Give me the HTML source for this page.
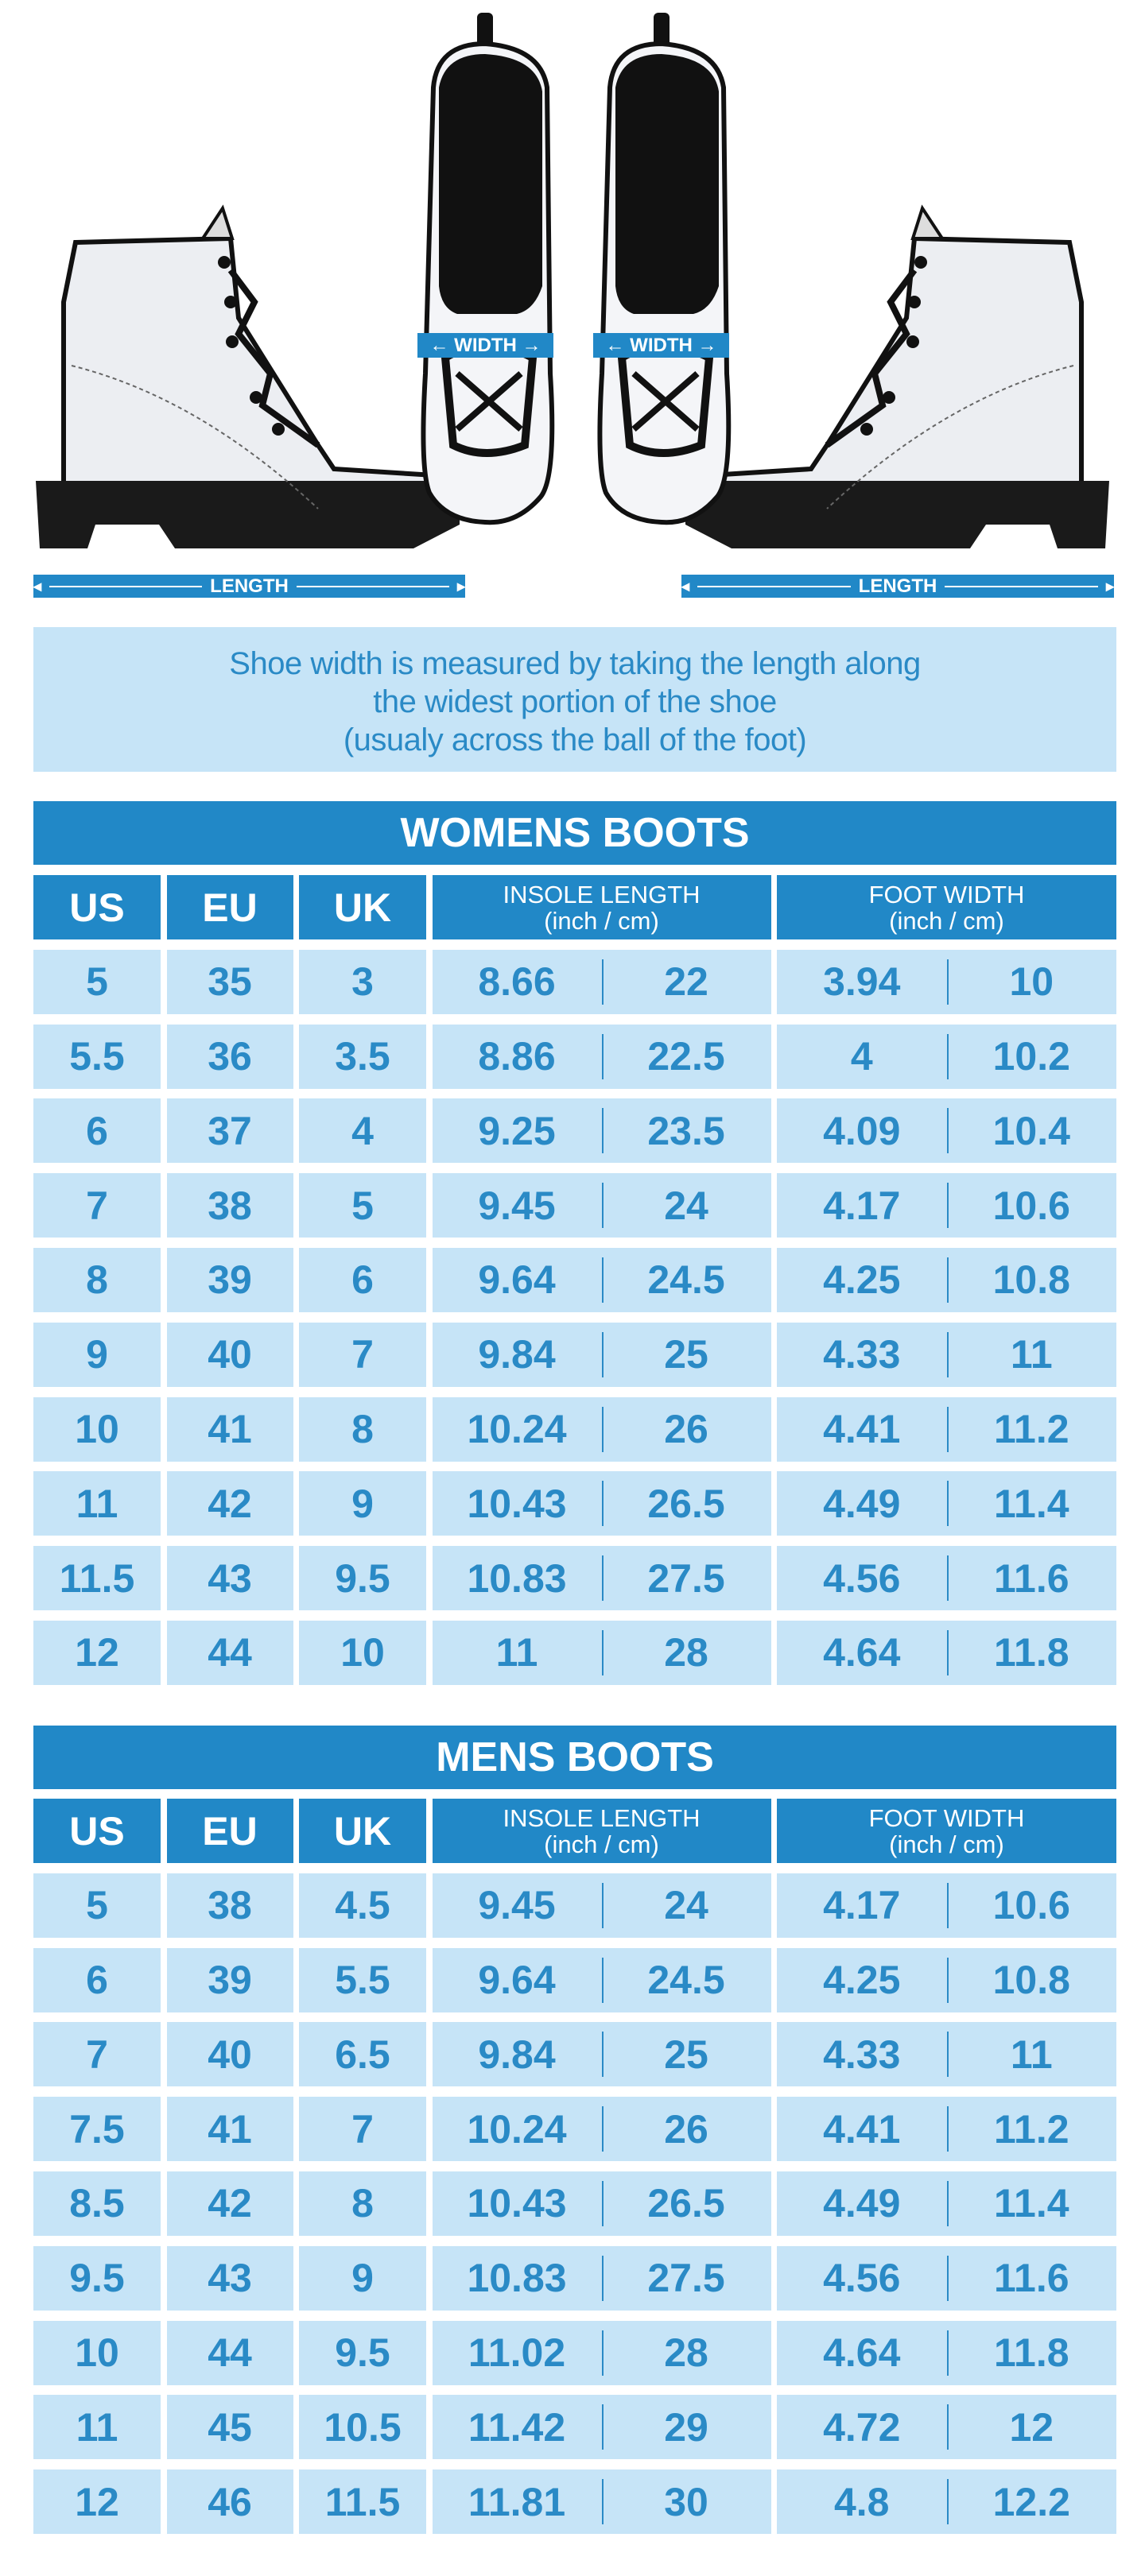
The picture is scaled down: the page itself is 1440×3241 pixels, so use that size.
<!DOCTYPE html>
<html><head><meta charset="utf-8">
<style>
*{margin:0;padding:0;box-sizing:border-box}
body{width:1440px;height:3241px;background:#fff;position:relative;overflow:hidden;font-family:"Liberation Sans",sans-serif}
.abs{position:absolute}
.bar{background:#2188c7;color:#fff;display:flex;align-items:center;justify-content:center}
.len{height:29px;font-size:24px;font-weight:bold}
.len .ln{flex:1;height:2px;background:#fff;margin:0 10px;position:relative}
.info{left:42px;top:789px;width:1362px;height:182px;background:#c6e4f7;color:#2a8ac6;text-align:center;font-size:40px;line-height:48px;padding-top:22px;letter-spacing:-0.5px}
.title{left:42px;width:1362px;height:80px;font-weight:bold;font-size:52px}
.tbl{position:absolute;left:42px;width:1362px}
.row{display:flex;gap:7.5px}
.row>div{display:flex;align-items:center;justify-content:center}
.c1{width:160px}.c2{width:159px}.c3{width:160px}.c4{width:426px}.c5{width:427px}
.hd>div{background:#2188c7;color:#fff;height:81px}
.hd .big{font-size:50px;font-weight:bold}
.hd .sm{font-size:31px;line-height:33px;text-align:center;flex-direction:column}
.dr{margin-top:12.8px}
.dr>div{background:#c6e4f7;color:#2a8ac6;height:81px;font-size:50px;font-weight:bold}
.dr .sp{justify-content:space-around;position:relative}
.dr .sp span{width:50%;text-align:center}
.dr .sp:after{content:"";position:absolute;left:50%;top:12px;bottom:12px;width:2px;background:#2a8ac6}
</style></head><body>

<svg class="abs" style="left:0;top:0" width="1440" height="710" viewBox="0 0 1440 710">
 <defs>
 <g id="side">
  <path d="M95 305 L290 300 L300 400 L400 560 L420 590 L578 600 L578 630 L80 630 L80 380 Z" fill="#eceef2" stroke="#111" stroke-width="6"/>
  <path d="M45 605 L578 605 L578 660 L520 690 L220 690 L200 660 L120 660 L110 690 L50 690 Z" fill="#1a1a1a"/>
  <path d="M255 300 L280 262 L292 300Z" fill="#ddd" stroke="#111" stroke-width="4"/>
  <g fill="#111"><circle cx="282" cy="330" r="8"/><circle cx="290" cy="380" r="8"/><circle cx="292" cy="430" r="8"/><circle cx="322" cy="500" r="8"/><circle cx="350" cy="540" r="8"/></g>
  <path d="M290 340 L320 380 L300 420 L340 470 L330 510 L400 560" stroke="#111" stroke-width="8" fill="none"/>
  <path d="M90 460 Q250 500 400 640" stroke="#666" stroke-width="2" stroke-dasharray="5 4" fill="none"/>
 </g>
 <g id="top">
  <rect x="600" y="16" width="20" height="50" rx="6" fill="#111"/>
  <path d="M545 110 Q550 55 610 55 Q680 60 688 110 L692 470 Q700 600 680 625 Q650 660 610 657 Q560 655 540 620 Q528 590 535 470 Z" fill="#f4f5f8" stroke="#111" stroke-width="6"/>
  <path d="M552 110 Q560 68 610 68 Q675 72 682 115 L682 360 Q672 390 650 395 L575 395 Q555 388 552 360 Z" fill="#111"/>
  <path d="M560 450 Q610 420 670 450 L660 560 Q610 580 570 560Z" fill="none" stroke="#111" stroke-width="10"/>
  <path d="M575 470 L655 540 M655 470 L575 540" stroke="#111" stroke-width="8"/>
 </g>
 </defs>
 <use href="#side"/>
 <g transform="translate(1440,0) scale(-1,1)"><use href="#side"/></g>
 <use href="#top"/>
 <g transform="translate(222,0)"><use href="#top"/></g>
</svg>

<div class="abs bar" style="left:525px;top:419px;width:171px;height:31px;font-size:24px;font-weight:bold">← WIDTH →</div>
<div class="abs bar" style="left:746px;top:419px;width:171px;height:31px;font-size:24px;font-weight:bold">← WIDTH →</div>

<div class="abs bar len" style="left:42px;top:723px;width:543px"><span style="font-size:20px">◂</span><div class="ln"></div>LENGTH<div class="ln"></div><span style="font-size:20px">▸</span></div>
<div class="abs bar len" style="left:857px;top:723px;width:544px"><span style="font-size:20px">◂</span><div class="ln"></div>LENGTH<div class="ln"></div><span style="font-size:20px">▸</span></div>

<div class="abs info">Shoe width is measured by taking the length along<br>the widest portion of the shoe<br>(usualy across the ball of the foot)</div>

<div class="abs bar title" style="top:1008px">WOMENS BOOTS</div>
<div class="tbl" style="top:1101px">
 <div class="row hd"><div class="c1 big">US</div><div class="c2 big">EU</div><div class="c3 big">UK</div><div class="c4 sm"><span>INSOLE LENGTH</span><span>(inch / cm)</span></div><div class="c5 sm"><span>FOOT WIDTH</span><span>(inch / cm)</span></div></div>
 <div class="row dr"><div class="c1">5</div><div class="c2">35</div><div class="c3">3</div><div class="c4 sp"><span>8.66</span><span>22</span></div><div class="c5 sp"><span>3.94</span><span>10</span></div></div>
 <div class="row dr"><div class="c1">5.5</div><div class="c2">36</div><div class="c3">3.5</div><div class="c4 sp"><span>8.86</span><span>22.5</span></div><div class="c5 sp"><span>4</span><span>10.2</span></div></div>
 <div class="row dr"><div class="c1">6</div><div class="c2">37</div><div class="c3">4</div><div class="c4 sp"><span>9.25</span><span>23.5</span></div><div class="c5 sp"><span>4.09</span><span>10.4</span></div></div>
 <div class="row dr"><div class="c1">7</div><div class="c2">38</div><div class="c3">5</div><div class="c4 sp"><span>9.45</span><span>24</span></div><div class="c5 sp"><span>4.17</span><span>10.6</span></div></div>
 <div class="row dr"><div class="c1">8</div><div class="c2">39</div><div class="c3">6</div><div class="c4 sp"><span>9.64</span><span>24.5</span></div><div class="c5 sp"><span>4.25</span><span>10.8</span></div></div>
 <div class="row dr"><div class="c1">9</div><div class="c2">40</div><div class="c3">7</div><div class="c4 sp"><span>9.84</span><span>25</span></div><div class="c5 sp"><span>4.33</span><span>11</span></div></div>
 <div class="row dr"><div class="c1">10</div><div class="c2">41</div><div class="c3">8</div><div class="c4 sp"><span>10.24</span><span>26</span></div><div class="c5 sp"><span>4.41</span><span>11.2</span></div></div>
 <div class="row dr"><div class="c1">11</div><div class="c2">42</div><div class="c3">9</div><div class="c4 sp"><span>10.43</span><span>26.5</span></div><div class="c5 sp"><span>4.49</span><span>11.4</span></div></div>
 <div class="row dr"><div class="c1">11.5</div><div class="c2">43</div><div class="c3">9.5</div><div class="c4 sp"><span>10.83</span><span>27.5</span></div><div class="c5 sp"><span>4.56</span><span>11.6</span></div></div>
 <div class="row dr"><div class="c1">12</div><div class="c2">44</div><div class="c3">10</div><div class="c4 sp"><span>11</span><span>28</span></div><div class="c5 sp"><span>4.64</span><span>11.8</span></div></div>
</div>

<div class="abs bar title" style="top:2171px">MENS BOOTS</div>
<div class="tbl" style="top:2263px">
 <div class="row hd"><div class="c1 big">US</div><div class="c2 big">EU</div><div class="c3 big">UK</div><div class="c4 sm"><span>INSOLE LENGTH</span><span>(inch / cm)</span></div><div class="c5 sm"><span>FOOT WIDTH</span><span>(inch / cm)</span></div></div>
 <div class="row dr"><div class="c1">5</div><div class="c2">38</div><div class="c3">4.5</div><div class="c4 sp"><span>9.45</span><span>24</span></div><div class="c5 sp"><span>4.17</span><span>10.6</span></div></div>
 <div class="row dr"><div class="c1">6</div><div class="c2">39</div><div class="c3">5.5</div><div class="c4 sp"><span>9.64</span><span>24.5</span></div><div class="c5 sp"><span>4.25</span><span>10.8</span></div></div>
 <div class="row dr"><div class="c1">7</div><div class="c2">40</div><div class="c3">6.5</div><div class="c4 sp"><span>9.84</span><span>25</span></div><div class="c5 sp"><span>4.33</span><span>11</span></div></div>
 <div class="row dr"><div class="c1">7.5</div><div class="c2">41</div><div class="c3">7</div><div class="c4 sp"><span>10.24</span><span>26</span></div><div class="c5 sp"><span>4.41</span><span>11.2</span></div></div>
 <div class="row dr"><div class="c1">8.5</div><div class="c2">42</div><div class="c3">8</div><div class="c4 sp"><span>10.43</span><span>26.5</span></div><div class="c5 sp"><span>4.49</span><span>11.4</span></div></div>
 <div class="row dr"><div class="c1">9.5</div><div class="c2">43</div><div class="c3">9</div><div class="c4 sp"><span>10.83</span><span>27.5</span></div><div class="c5 sp"><span>4.56</span><span>11.6</span></div></div>
 <div class="row dr"><div class="c1">10</div><div class="c2">44</div><div class="c3">9.5</div><div class="c4 sp"><span>11.02</span><span>28</span></div><div class="c5 sp"><span>4.64</span><span>11.8</span></div></div>
 <div class="row dr"><div class="c1">11</div><div class="c2">45</div><div class="c3">10.5</div><div class="c4 sp"><span>11.42</span><span>29</span></div><div class="c5 sp"><span>4.72</span><span>12</span></div></div>
 <div class="row dr"><div class="c1">12</div><div class="c2">46</div><div class="c3">11.5</div><div class="c4 sp"><span>11.81</span><span>30</span></div><div class="c5 sp"><span>4.8</span><span>12.2</span></div></div>
</div>
</body></html>
